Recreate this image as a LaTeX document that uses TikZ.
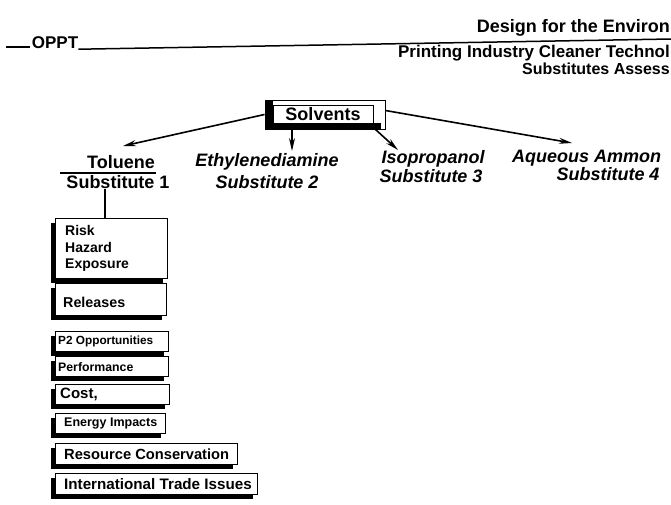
\documentclass[tikz,border=0pt]{standalone}
\usepackage{fontspec}
\setmainfont{Liberation Sans}
\usetikzlibrary{arrows.meta,shadows}
\begin{document}
\begin{tikzpicture}[x=1pt,y=-1pt,
  hdr/.style={anchor=east, inner sep=0pt},
  lab/.style={font=\fontsize{18}{18}\selectfont\bfseries, inner sep=0pt},
  labi/.style={font=\fontsize{18}{18}\selectfont\bfseries\itshape, inner sep=0pt},
  arr/.style={line width=1.6pt, -{Stealth[length=13pt,width=6pt]}},
  rule/.style={line width=1.5pt},
  critbox/.style={draw, line width=1.4pt, fill=white, anchor=north west, inner sep=0pt,
    drop shadow={shadow xshift=-5pt, shadow yshift=-4pt, fill=black, opacity=1}},
  crittext/.style={anchor=west, inner sep=0pt, align=left},
]
\useasboundingbox (0,0) rectangle (671,504);
\clip (0,0) rectangle (671,504);
\fill[white] (0,0) rectangle (671,504);

% header
\coordinate (d1) at (6,47);
\coordinate (d2) at (30,47);
\draw[rule] (d1) -- (d2);
\node[lab, font=\fontsize{17}{17}\selectfont\bfseries] (oppt) at (55,43) {OPPT};
\coordinate (r2) at (671,39);
\draw[rule] (oppt.south east) -- (r2);
\node[hdr, font=\fontsize{18}{18}\selectfont\bfseries] (h1) at (670,28) {Design for the Environ};
\node[hdr, font=\fontsize{17}{17}\selectfont\bfseries] (h2) at (670,53) {Printing Industry Cleaner Technol};
\node[hdr, font=\fontsize{16}{16}\selectfont\bfseries] (h3) at (670,69) {Substitutes Assess};

% Solvents box
\node[draw, line width=1pt, fill=white, minimum width=120pt, minimum height=29pt, inner sep=0pt] (solv) at (325,114.5) {};
\fill[black] (265,100) rectangle (273,129);
\fill[black] (265,123) rectangle (381,129);
\node[draw, line width=0.8pt, fill=white, minimum width=100pt, minimum height=18pt, inner sep=0pt,
  font=\fontsize{18}{18}\selectfont\bfseries] (solvin) at (323,114) {Solvents};

% substitutes labels
\node[lab] (tol) at (121,162) {Toluene};
\node[lab] (sub1) at (118,182) {Substitute 1};
\coordinate (u1) at (60,173);
\coordinate (u2) at (156,173);
\draw[line width=1.8pt] (u1) -- (u2);
\node[labi] (eth) at (267,162) {Ethylenediamine};
\node[labi] (sub2) at (267,182) {Substitute 2};
\node[labi] (iso) at (433,159) {Isopropanol};
\node[labi] (sub3) at (431,176) {Substitute 3};
\node[labi, anchor=west] (aq) at (512,158) {Aqueous Ammon};
\node[labi] (sub4) at (608,174) {Substitute 4};

% arrows
\coordinate (t1) at (123,146);
\coordinate (t2) at (292,151);
\coordinate (t3) at (398,150);
\coordinate (t4) at (572,143);
\draw[arr] (solv.west) -- (t1);
\draw[arr] (t2 |- solv.south) -- (t2);
\draw[arr] ([xshift=-10pt]solv.south east) -- (t3);
\draw[arr] ([yshift=4pt]solv.east) -- (t4);

% criteria boxes
\node[critbox, minimum width=112pt, minimum height=60pt] (risk) at (55,218) {};
\node[crittext, font=\fontsize{14}{16.5}\selectfont\bfseries] (riskt) at ([xshift=10pt]risk.west) {Risk\\Hazard\\Exposure};
\draw[line width=1.6pt] (sub1.south -| 105,0) -- (risk.north -| 105,0);

\node[critbox, minimum width=111pt, minimum height=32pt] (rel) at (55,283) {};
\node[crittext, font=\fontsize{14.3}{14.3}\selectfont\bfseries] (relt) at ([xshift=8pt,yshift=-3pt]rel.west) {Releases};

\node[critbox, minimum width=113pt, minimum height=20pt] (p2) at (55,331) {};
\node[crittext, font=\fontsize{11.8}{11.8}\selectfont\bfseries] (p2t) at ([xshift=3pt]p2.west) {P2 Opportunities};

\node[critbox, minimum width=113pt, minimum height=20pt] (perf) at (55,356) {};
\node[crittext, font=\fontsize{12.3}{12.3}\selectfont\bfseries] (perft) at ([xshift=3pt]perf.west) {Performance};

\node[critbox, minimum width=114pt, minimum height=20pt] (cost) at (55,384) {};
\node[crittext, font=\fontsize{15}{15}\selectfont\bfseries] (costt) at ([xshift=5pt]cost.west) {Cost,};

\node[critbox, minimum width=110pt, minimum height=20pt] (energy) at (55,413) {};
\node[crittext, font=\fontsize{12.5}{12.5}\selectfont\bfseries] (energyt) at ([xshift=9pt]energy.west) {Energy Impacts};

\node[critbox, minimum width=182pt, minimum height=21pt] (res) at (55,443) {};
\node[crittext, font=\fontsize{14.7}{14.7}\selectfont\bfseries] (rest) at ([xshift=9pt]res.west) {Resource Conservation};

\node[critbox, minimum width=202pt, minimum height=21pt] (intl) at (55,473) {};
\node[crittext, font=\fontsize{15.2}{15.2}\selectfont\bfseries] (intlt) at ([xshift=9pt]intl.west) {International Trade Issues};
\end{tikzpicture}
\end{document}
